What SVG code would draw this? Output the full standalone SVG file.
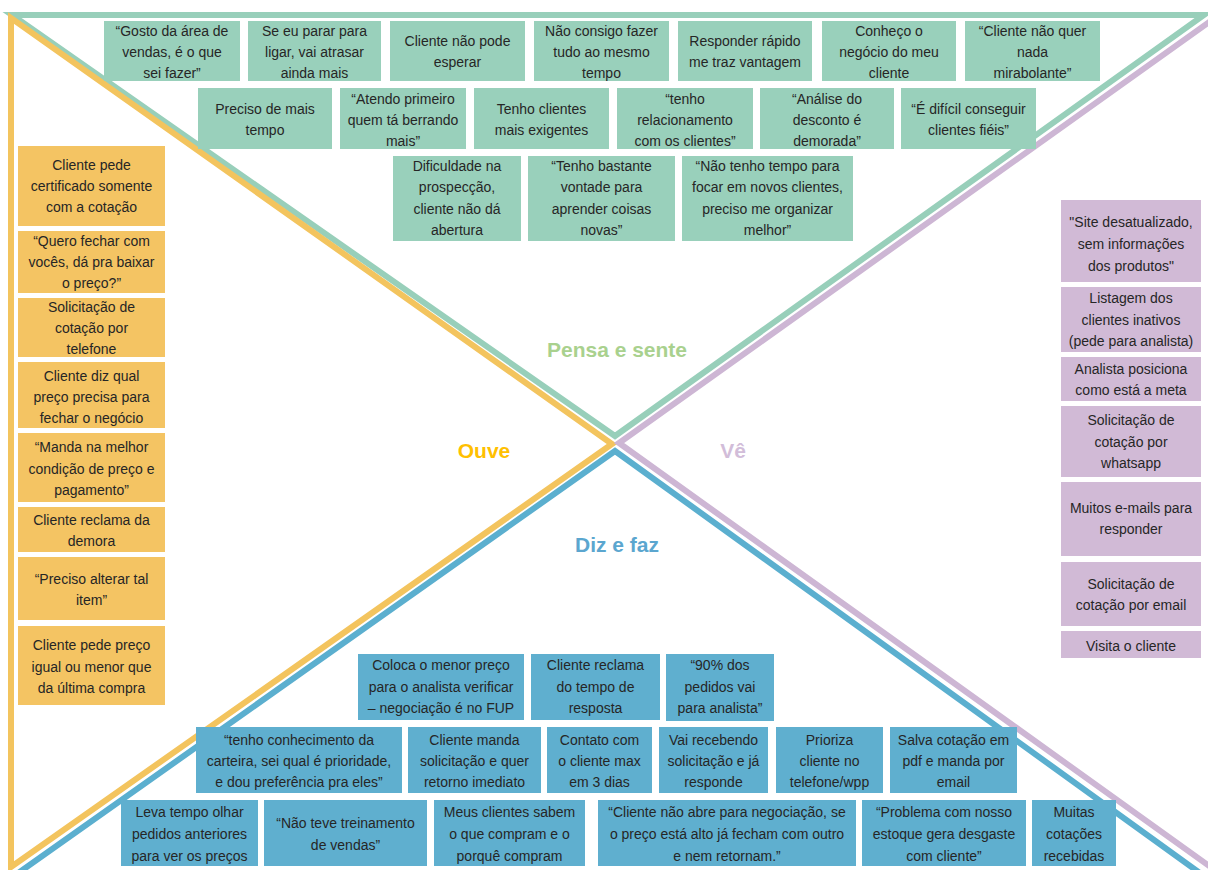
<svg xmlns="http://www.w3.org/2000/svg" width="1208" height="870" viewBox="0 0 1208 870">
<style>
.t{font-family:"Liberation Sans",Arial,sans-serif;font-size:14px;fill:#262626;text-anchor:middle}
.h{font-family:"Liberation Sans",Arial,sans-serif;font-size:21px;font-weight:bold;text-anchor:middle}
.gr{fill:#99D0BB}.ye{fill:#F4C463}.pu{fill:#D1BAD6}.bl{fill:#5FAFCF}
.ln{fill:none;stroke-width:6;stroke-linejoin:miter;stroke-miterlimit:10}
</style>
<rect width="1208" height="870" fill="#FFFFFF"/>
<g id="connectors">
<polygon class="ln" stroke="#98CFBA" points="12,15 1204,15 615,436"/>
<polygon class="ln" stroke="#F3C45E" points="11,18 11,867 612,444"/>
<polyline class="ln" stroke="#CDB6D4" points="1212,20 619,443 1212,868"/>
<polyline class="ln" stroke="#5BAFCF" points="14,876 615,451 1204,876"/>
</g>
<g id="labels">
<text class="h" x="617" y="357" fill="#A9D18E">Pensa e sente</text>
<text class="h" x="484" y="458" fill="#FFC000">Ouve</text>
<text class="h" x="733" y="458" fill="#D2BDD9">Vê</text>
<text class="h" x="617" y="552" fill="#5BA6CF">Diz e faz</text>
</g>
<!-- Pensa e sente row 1 -->
<g id="p1"><rect class="gr" x="104" y="21" width="136" height="60"/><text class="t" x="172" y="36">“Gosto da área de<tspan x="172" dy="21">vendas, é o que</tspan><tspan x="172" dy="21">sei fazer”</tspan></text></g>
<g id="p2"><rect class="gr" x="248" y="21" width="133" height="60"/><text class="t" x="314.5" y="36">Se eu parar para<tspan x="314.5" dy="21">ligar, vai atrasar</tspan><tspan x="314.5" dy="21">ainda mais</tspan></text></g>
<g id="p3"><rect class="gr" x="390" y="21" width="135" height="60"/><text class="t" x="457.5" y="46">Cliente não pode<tspan x="457.5" dy="21">esperar</tspan></text></g>
<g id="p4"><rect class="gr" x="534" y="21" width="135" height="60"/><text class="t" x="601.5" y="36">Não consigo fazer<tspan x="601.5" dy="21">tudo ao mesmo</tspan><tspan x="601.5" dy="21">tempo</tspan></text></g>
<g id="p5"><rect class="gr" x="678" y="21" width="134" height="60"/><text class="t" x="745" y="46">Responder rápido<tspan x="745" dy="21">me traz vantagem</tspan></text></g>
<g id="p6"><rect class="gr" x="822" y="21" width="134" height="60"/><text class="t" x="889" y="36">Conheço o<tspan x="889" dy="21">negócio do meu</tspan><tspan x="889" dy="21">cliente</tspan></text></g>
<g id="p7"><rect class="gr" x="965" y="21" width="135" height="60"/><text class="t" x="1032.5" y="36">“Cliente não quer<tspan x="1032.5" dy="21">nada</tspan><tspan x="1032.5" dy="21">mirabolante”</tspan></text></g>
<!-- row 2 -->
<g id="p8"><rect class="gr" x="198" y="88" width="134" height="61"/><text class="t" x="265" y="114">Preciso de mais<tspan x="265" dy="21">tempo</tspan></text></g>
<g id="p9"><rect class="gr" x="340" y="88" width="126" height="61"/><text class="t" x="403" y="104">“Atendo primeiro<tspan x="403" dy="21">quem tá berrando</tspan><tspan x="403" dy="21">mais”</tspan></text></g>
<g id="p10"><rect class="gr" x="474" y="88" width="135" height="61"/><text class="t" x="541.5" y="114">Tenho clientes<tspan x="541.5" dy="21">mais exigentes</tspan></text></g>
<g id="p11"><rect class="gr" x="617" y="88" width="136" height="61"/><text class="t" x="685" y="104">“tenho<tspan x="685" dy="21">relacionamento</tspan><tspan x="685" dy="21">com os clientes”</tspan></text></g>
<g id="p12"><rect class="gr" x="760" y="88" width="134" height="61"/><text class="t" x="827" y="104">“Análise do<tspan x="827" dy="21">desconto é</tspan><tspan x="827" dy="21">demorada”</tspan></text></g>
<g id="p13"><rect class="gr" x="901" y="88" width="135" height="61"/><text class="t" x="968.5" y="114">“É difícil conseguir<tspan x="968.5" dy="21">clientes fiéis”</tspan></text></g>
<!-- row 3 -->
<g id="p14"><rect class="gr" x="393" y="156" width="128" height="85"/><text class="t" x="457" y="171">Dificuldade na<tspan x="457" dy="21.3">prospecção,</tspan><tspan x="457" dy="21.3">cliente não dá</tspan><tspan x="457" dy="21.3">abertura</tspan></text></g>
<g id="p15"><rect class="gr" x="528" y="156" width="147" height="85"/><text class="t" x="601.5" y="171">“Tenho bastante<tspan x="601.5" dy="21.3">vontade para</tspan><tspan x="601.5" dy="21.3">aprender coisas</tspan><tspan x="601.5" dy="21.3">novas”</tspan></text></g>
<g id="p16"><rect class="gr" x="682" y="156" width="171" height="85"/><text class="t" x="767.5" y="171">“Não tenho tempo para<tspan x="767.5" dy="21.3">focar em novos clientes,</tspan><tspan x="767.5" dy="21.3">preciso me organizar</tspan><tspan x="767.5" dy="21.3">melhor”</tspan></text></g>
<!-- Ouve -->
<g id="o1"><rect class="ye" x="18" y="146" width="147" height="80"/><text class="t" x="91.5" y="170">Cliente pede<tspan x="91.5" dy="21">certificado somente</tspan><tspan x="91.5" dy="21">com a cotação</tspan></text></g>
<g id="o2"><rect class="ye" x="18" y="231" width="147" height="62"/><text class="t" x="91.5" y="246">“Quero fechar com<tspan x="91.5" dy="21">vocês, dá pra baixar</tspan><tspan x="91.5" dy="21">o preço?”</tspan></text></g>
<g id="o3"><rect class="ye" x="18" y="298" width="147" height="59"/><text class="t" x="91.5" y="312">Solicitação de<tspan x="91.5" dy="21">cotação por</tspan><tspan x="91.5" dy="21">telefone</tspan></text></g>
<g id="o4"><rect class="ye" x="18" y="362" width="147" height="66"/><text class="t" x="91.5" y="381">Cliente diz qual<tspan x="91.5" dy="21">preço precisa para</tspan><tspan x="91.5" dy="21">fechar o negócio</tspan></text></g>
<g id="o5"><rect class="ye" x="18" y="433" width="147" height="69"/><text class="t" x="91.5" y="452">“Manda na melhor<tspan x="91.5" dy="21.5">condição de preço e</tspan><tspan x="91.5" dy="21.5">pagamento”</tspan></text></g>
<g id="o6"><rect class="ye" x="18" y="507" width="147" height="45"/><text class="t" x="91.5" y="525">Cliente reclama da<tspan x="91.5" dy="21">demora</tspan></text></g>
<g id="o7"><rect class="ye" x="18" y="557" width="147" height="63"/><text class="t" x="91.5" y="584">“Preciso alterar tal<tspan x="91.5" dy="21">item”</tspan></text></g>
<g id="o8"><rect class="ye" x="18" y="626" width="147" height="79"/><text class="t" x="91.5" y="650">Cliente pede preço<tspan x="91.5" dy="21.5">igual ou menor que</tspan><tspan x="91.5" dy="21.5">da última compra</tspan></text></g>
<!-- Vê -->
<g id="v1"><rect class="pu" x="1061" y="200" width="140" height="82"/><text class="t" x="1131" y="227">"Site desatualizado,<tspan x="1131" dy="22">sem informações</tspan><tspan x="1131" dy="22">dos produtos"</tspan></text></g>
<g id="v2"><rect class="pu" x="1061" y="287" width="140" height="65"/><text class="t" x="1131" y="303">Listagem dos<tspan x="1131" dy="21.5">clientes inativos</tspan><tspan x="1131" dy="21.5">(pede para analista)</tspan></text></g>
<g id="v3"><rect class="pu" x="1061" y="357" width="140" height="44"/><text class="t" x="1131" y="374">Analista posiciona<tspan x="1131" dy="21">como está a meta</tspan></text></g>
<g id="v4"><rect class="pu" x="1061" y="406" width="140" height="71"/><text class="t" x="1131" y="425">Solicitação de<tspan x="1131" dy="21.5">cotação por</tspan><tspan x="1131" dy="21.5">whatsapp</tspan></text></g>
<g id="v5"><rect class="pu" x="1061" y="482" width="140" height="74"/><text class="t" x="1131" y="513">Muitos e-mails para<tspan x="1131" dy="21">responder</tspan></text></g>
<g id="v6"><rect class="pu" x="1061" y="562" width="140" height="64"/><text class="t" x="1131" y="589">Solicitação de<tspan x="1131" dy="21">cotação por email</tspan></text></g>
<g id="v7"><rect class="pu" x="1061" y="631" width="140" height="27"/><text class="t" x="1131" y="651">Visita o cliente</text></g>
<!-- Diz e faz row A -->
<g id="d1"><rect class="bl" x="358" y="654" width="166" height="66"/><text class="t" x="441" y="670">Coloca o menor preço<tspan x="441" dy="21.5">para o analista verificar</tspan><tspan x="441" dy="21.5">– negociação é no FUP</tspan></text></g>
<g id="d2"><rect class="bl" x="531" y="654" width="129" height="66"/><text class="t" x="595.5" y="670">Cliente reclama<tspan x="595.5" dy="21.5">do tempo de</tspan><tspan x="595.5" dy="21.5">resposta</tspan></text></g>
<g id="d3"><rect class="bl" x="666" y="654" width="108" height="67"/><text class="t" x="720" y="670">“90% dos<tspan x="720" dy="21.5">pedidos vai</tspan><tspan x="720" dy="21.5">para analista”</tspan></text></g>
<!-- row B -->
<g id="d4"><rect class="bl" x="196" y="727" width="206" height="66"/><text class="t" x="299" y="745">“tenho conhecimento da<tspan x="299" dy="21">carteira, sei qual é prioridade,</tspan><tspan x="299" dy="21">e dou preferência pra eles”</tspan></text></g>
<g id="d5"><rect class="bl" x="408" y="727" width="133" height="66"/><text class="t" x="474.5" y="745">Cliente manda<tspan x="474.5" dy="21">solicitação e quer</tspan><tspan x="474.5" dy="21">retorno imediato</tspan></text></g>
<g id="d6"><rect class="bl" x="547" y="727" width="105" height="66"/><text class="t" x="599.5" y="745">Contato com<tspan x="599.5" dy="21">o cliente max</tspan><tspan x="599.5" dy="21">em 3 dias</tspan></text></g>
<g id="d7"><rect class="bl" x="659" y="727" width="109" height="66"/><text class="t" x="713.5" y="745">Vai recebendo<tspan x="713.5" dy="21">solicitação e já</tspan><tspan x="713.5" dy="21">responde</tspan></text></g>
<g id="d8"><rect class="bl" x="776" y="727" width="107" height="66"/><text class="t" x="829.5" y="745">Prioriza<tspan x="829.5" dy="21">cliente no</tspan><tspan x="829.5" dy="21">telefone/wpp</tspan></text></g>
<g id="d9"><rect class="bl" x="890" y="727" width="127" height="66"/><text class="t" x="953.5" y="745">Salva cotação em<tspan x="953.5" dy="21">pdf e manda por</tspan><tspan x="953.5" dy="21">email</tspan></text></g>
<!-- row C -->
<g id="d10"><rect class="bl" x="121" y="800" width="137" height="66"/><text class="t" x="189.5" y="817">Leva tempo olhar<tspan x="189.5" dy="22">pedidos anteriores</tspan><tspan x="189.5" dy="22">para ver os preços</tspan></text></g>
<g id="d11"><rect class="bl" x="264" y="800" width="163" height="66"/><text class="t" x="345.5" y="828">“Não teve treinamento<tspan x="345.5" dy="22">de vendas”</tspan></text></g>
<g id="d12"><rect class="bl" x="434" y="800" width="151" height="66"/><text class="t" x="509.5" y="817">Meus clientes sabem<tspan x="509.5" dy="22">o que compram e o</tspan><tspan x="509.5" dy="22">porquê compram</tspan></text></g>
<g id="d13"><rect class="bl" x="598" y="800" width="258" height="66"/><text class="t" x="727" y="817">“Cliente não abre para negociação, se<tspan x="727" dy="22">o preço está alto já fecham com outro</tspan><tspan x="727" dy="22">e nem retornam.”</tspan></text></g>
<g id="d14"><rect class="bl" x="862" y="800" width="164" height="66"/><text class="t" x="944" y="817">“Problema com nosso<tspan x="944" dy="22">estoque gera desgaste</tspan><tspan x="944" dy="22">com cliente”</tspan></text></g>
<g id="d15"><rect class="bl" x="1032" y="800" width="84" height="66"/><text class="t" x="1074" y="817">Muitas<tspan x="1074" dy="22">cotações</tspan><tspan x="1074" dy="22">recebidas</tspan></text></g>
</svg>
